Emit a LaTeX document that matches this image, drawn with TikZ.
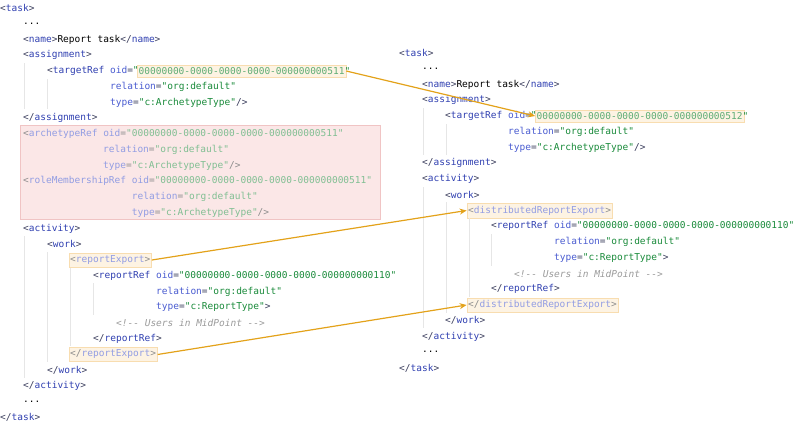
\documentclass[tikz,border=0pt]{standalone}
\usepackage{fontspec}
\newfontfamily\codefont{DejaVu Sans Mono}
\usetikzlibrary{arrows.meta,fit,backgrounds}
\definecolor{br}{HTML}{3A3D5C}
\definecolor{tn}{HTML}{2F3FB0}
\definecolor{at}{HTML}{4A5CD0}
\definecolor{va}{HTML}{198A3A}
\definecolor{cm}{HTML}{9A9A9A}
\definecolor{hlf}{HTML}{FDF3E3}
\definecolor{hld}{HTML}{F8DDB0}
\definecolor{rdf}{HTML}{FBE7E7}
\definecolor{rdd}{HTML}{F0C4C4}
\definecolor{arr}{HTML}{E3A21A}
\definecolor{gd}{HTML}{E6E6E6}
\newcommand\xo[1]{{\color{br}<}{\color{tn}#1}{\color{br}>}}
\newcommand\xc[1]{{\color{br}</}{\color{tn}#1}{\color{br}>}}
\newcommand\xs[1]{{\color{br}<}{\color{tn}#1}}
\newcommand\xa[2]{{\color{at}#1}{\color{br}=}{\color{va}"#2"}}
\newcommand\fadecols{\colorlet{br}{black!45}\colorlet{tn}{at!60}\colorlet{at}{at!60}\colorlet{va}{va!55}}
\newcommand\cmt{{\color{cm}\itshape <!-{}- Users in MidPoint -{}->}}
\tikzset{
  c/.style={anchor=west,inner sep=0pt,font=\codefont\fontsize{9.5}{11}\selectfont},
  hl/.style={draw=hld,fill=hlf,inner xsep=1.2pt,inner ysep=2.5pt},
  guide/.style={draw=gd,line width=0.8pt},
  ar/.style={draw=arr,line width=1.2pt,-{Stealth[length=7pt,width=6pt]}}
}
\begin{document}
\begin{tikzpicture}[x=1pt,y=-1pt]
\useasboundingbox (0,0) rectangle (800,425);
% left column
\node[c] (l0) at (0,8) {\xo{task}};
\node[c] (l1) at (23,23.75) {...};
\node[c] (l2) at (23,39.5) {\xo{name}Report task\xc{name}};
\node[c] (l3) at (23,55.25) {\xo{assignment}};
\node[c] (l4) at (47,71) {\xs{targetRef} {\color{at}oid}{\color{br}=}{\color{va}"}};
\node[c] (oid1) at (138.5,71) {\color{va!70}00000000-0000-0000-0000-000000000511};
\node[c] (l4q) at (344.4,71) {\color{va}"};
\node[c] (l5) at (110,86.75) {\xa{relation}{org:default}};
\node[c] (l6) at (110,102.5) {\xa{type}{c:ArchetypeType}{\color{br}/>}};
\node[c] (l7) at (23,118.25) {\xc{assignment}};
\node[c] (l8) at (23,134) {\fadecols\xs{archetypeRef} \xa{oid}{00000000-0000-0000-0000-000000000511}};
\node[c] (l9) at (103,149.75) {\fadecols\xa{relation}{org:default}};
\node[c] (l10) at (103,165.5) {\fadecols\xa{type}{c:ArchetypeType}{\color{br}/>}};
\node[c] (l11) at (23,181.25) {\fadecols\xs{roleMembershipRef} \xa{oid}{00000000-0000-0000-0000-000000000511}};
\node[c] (l12) at (131.7,197) {\fadecols\xa{relation}{org:default}};
\node[c] (l13) at (131.7,212.75) {\fadecols\xa{type}{c:ArchetypeType}{\color{br}/>}};
\node[c] (l14) at (23,228.5) {\xo{activity}};
\node[c] (l15) at (47,244.25) {\xo{work}};
\node[c] (rex1) at (70,260) {\fadecols\xo{reportExport}};
\node[c] (l17) at (93,275.75) {\xs{reportRef} \xa{oid}{00000000-0000-0000-0000-000000000110}};
\node[c] (l18) at (156,291.5) {\xa{relation}{org:default}};
\node[c] (l19) at (156,307.25) {\xa{type}{c:ReportType}{\color{br}>}};
\node[c] (l20) at (116,323) {\cmt};
\node[c] (l21) at (93,338.75) {\xc{reportRef}};
\node[c] (rex2) at (70,354.5) {\fadecols\xc{reportExport}};
\node[c] (l23) at (47,370.25) {\xc{work}};
\node[c] (l24) at (23,386) {\xc{activity}};
\node[c] (l25) at (23,401.75) {...};
\node[c] (l26) at (0,417.5) {\xc{task}};
% right column
\node[c] (r0) at (399,53) {\xo{task}};
\node[c] (r1) at (422,68.75) {...};
\node[c] (r2) at (422,84.5) {\xo{name}Report task\xc{name}};
\node[c] (r3) at (422,100.25) {\xo{assignment}};
\node[c] (r4) at (445,116) {\xs{targetRef} {\color{at}oid}{\color{br}=}{\color{va}"}};
\node[c] (oid2) at (536.5,116) {\color{va!70}00000000-0000-0000-0000-000000000512};
\node[c] (r4q) at (742.4,116) {\color{va}"};
\node[c] (r5) at (508,131.75) {\xa{relation}{org:default}};
\node[c] (r6) at (508,147.5) {\xa{type}{c:ArchetypeType}{\color{br}/>}};
\node[c] (r7) at (422,163.25) {\xc{assignment}};
\node[c] (r8) at (422,179) {\xo{activity}};
\node[c] (r9) at (445,194.75) {\xo{work}};
\node[c] (d1) at (468,210.5) {\fadecols\xo{distributedReportExport}};
\node[c] (r11) at (491,226.25) {\xs{reportRef} \xa{oid}{00000000-0000-0000-0000-000000000110}};
\node[c] (r12) at (554,242) {\xa{relation}{org:default}};
\node[c] (r13) at (554,257.75) {\xa{type}{c:ReportType}{\color{br}>}};
\node[c] (r14) at (514,273.5) {\cmt};
\node[c] (r15) at (491,289.25) {\xc{reportRef}};
\node[c] (d2) at (468,305) {\fadecols\xc{distributedReportExport}};
\node[c] (r17) at (445,320.75) {\xc{work}};
\node[c] (r18) at (422,336.5) {\xc{activity}};
\node[c] (r19) at (422,352.25) {...};
\node[c] (r20) at (399,368) {\xc{task}};
\begin{scope}[on background layer]
\node[hl,fit=(oid1)] (b1) {};
\node[hl,fit=(oid2)] (b2) {};
\node[hl,fit=(rex1)] (b3) {};
\node[hl,fit=(rex2)] (b4) {};
\node[hl,fit=(d1)] (b5) {};
\node[hl,fit=(d2)] (b6) {};
\fill[rdf,draw=rdd] (20,125) rectangle (380,219);
% indent guides
\draw[guide] (24,63) -- (24,109);
\draw[guide] (47,79) -- (47,109);
\draw[guide] (24,236) -- (24,378);
\draw[guide] (47,252) -- (47,362);
\draw[guide] (70,268) -- (70,346);
\draw[guide] (93,283) -- (93,315);
\draw[guide] (423,108) -- (423,155);
\draw[guide] (446,124) -- (446,155);
\draw[guide] (423,187) -- (423,328);
\draw[guide] (446,202) -- (446,313);
\draw[guide] (469,218) -- (469,297);
\draw[guide] (491,234) -- (491,266);
\end{scope}
\draw[ar] (b1.east) -- (b2.west);
\draw[ar] (b3.east) -- (b5.west);
\draw[ar] (b4.east) -- (b6.west);
\end{tikzpicture}
\end{document}
